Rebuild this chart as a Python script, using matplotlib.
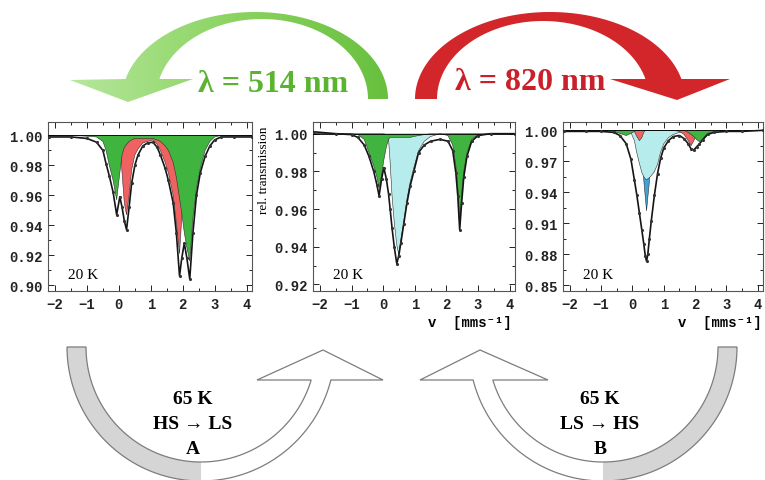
import numpy as np
import matplotlib
matplotlib.use("Agg")
import matplotlib.pyplot as plt
from matplotlib.patches import Polygon
from matplotlib.colors import LinearSegmentedColormap
from matplotlib.ticker import MultipleLocator, FixedLocator, AutoMinorLocator, FormatStrFormatter

plt.rcParams['font.family'] = ['Liberation Mono', 'DejaVu Sans Mono']
plt.rcParams['font.weight'] = 'bold'
SERIF = ['Liberation Serif', 'DejaVu Serif']

# ---- spectrum after 514 nm (velocity in mm/s, relative transmission) ----
v1 = [-2.2, -1.5, -1.0, -0.7, -0.5, -0.4, -0.3, -0.18, -0.07, 0.03,
      0.1, 0.17, 0.24, 0.32, 0.4, 0.5, 0.6, 0.75, 0.9, 1.07,
      1.2, 1.3, 1.45, 1.55, 1.7, 1.8, 1.9, 1.97, 2.05, 2.13,
      2.22, 2.32, 2.43, 2.55, 2.7, 2.85, 3.0, 3.2, 3.6, 4.17]
data1 = [0.999, 0.999, 0.998, 0.9955, 0.99, 0.981, 0.973, 0.962, 0.947, 0.959,
         0.952, 0.943, 0.937, 0.952, 0.968, 0.98, 0.987, 0.993, 0.995, 0.9955,
         0.992, 0.987, 0.978, 0.97, 0.955, 0.935, 0.906, 0.918, 0.928, 0.918,
         0.904, 0.935, 0.96, 0.975, 0.986, 0.993, 0.997, 0.999, 0.999, 0.999]
red1 = [1.0, 1.0, 1.0, 1.0, 1.0, 1.0, 1.0, 1.0, 1.0, 0.997,
        0.975, 0.955, 0.947, 0.96, 0.977, 0.987, 0.991, 0.995, 0.996, 0.997,
        0.994, 0.99, 0.982, 0.975, 0.96, 0.942, 0.921, 0.945, 0.97, 0.985,
        0.99, 0.995, 0.998, 1.0, 1.0, 1.0, 1.0, 1.0, 1.0, 1.0]
green1 = [1.0, 1.0, 0.9995, 0.999, 0.996, 0.99, 0.98, 0.97, 0.957, 0.975,
          0.987, 0.992, 0.994, 0.996, 0.997, 0.998, 0.998, 0.998, 0.998, 0.998,
          0.997, 0.996, 0.993, 0.99, 0.982, 0.972, 0.958, 0.948, 0.935, 0.925,
          0.916, 0.945, 0.965, 0.978, 0.99, 0.996, 0.999, 1.0, 1.0, 1.0]
yticks1 = [0.90, 0.92, 0.94, 0.96, 0.98, 1.00]

# ---- spectrum in the middle ----
v2 = [-2.2, -1.5, -1.0, -0.8, -0.6, -0.45, -0.3, -0.2, -0.13, -0.05,
      0.02, 0.1, 0.17, 0.22, 0.28, 0.35, 0.43, 0.49, 0.56, 0.65,
      0.75, 0.85, 0.97, 1.12, 1.3, 1.5, 1.8, 2.05, 2.2, 2.3,
      2.36, 2.42, 2.48, 2.55, 2.65, 2.8, 3.0, 3.4, 4.17]
data2 = [1.001, 1.0, 0.9995, 0.998, 0.994, 0.988, 0.98, 0.973, 0.967, 0.976,
         0.982, 0.976, 0.968, 0.96, 0.95, 0.94, 0.931, 0.935, 0.942, 0.952,
         0.963, 0.972, 0.98, 0.99, 0.994, 0.996, 0.997, 0.996, 0.991, 0.979,
         0.967, 0.949, 0.963, 0.977, 0.988, 0.996, 0.999, 1.0, 1.0]
cyan2 = [1.0, 1.0, 1.0, 1.0, 1.0, 1.0, 1.0, 1.0, 1.0, 1.0,
         1.0, 0.9995, 0.997, 0.985, 0.967, 0.953, 0.941, 0.936, 0.944, 0.953,
         0.965, 0.974, 0.982, 0.991, 0.996, 0.9985, 1.0, 1.0, 1.0, 1.0,
         1.0, 1.0, 1.0, 1.0, 1.0, 1.0, 1.0, 1.0, 1.0]
green2 = [1.0, 1.0, 1.0, 0.9995, 0.997, 0.99, 0.983, 0.977, 0.971, 0.978,
          0.986, 0.993, 0.997, 0.998, 0.998, 0.998, 0.998, 0.998, 0.998, 0.998,
          0.998, 0.998, 0.9985, 0.999, 0.9995, 1.0, 1.0, 0.999, 0.994, 0.983,
          0.972, 0.950, 0.968, 0.98, 0.99, 0.997, 0.9995, 1.0, 1.0]
yticks2 = [0.92, 0.94, 0.96, 0.98, 1.00]

# ---- spectrum after 820 nm ----
v3 = [-2.2, -1.5, -1.0, -0.6, -0.4, -0.2, -0.05, 0.06, 0.14, 0.22,
      0.3, 0.36, 0.41, 0.45, 0.49, 0.54, 0.6, 0.7, 0.8, 0.9,
      1.0, 1.15, 1.3, 1.5, 1.65, 1.78, 1.87, 1.96, 2.05, 2.14,
      2.25, 2.4, 2.6, 3.0, 3.5, 4.17]
data3 = [0.999, 0.999, 0.999, 0.998, 0.995, 0.987, 0.972, 0.952, 0.937, 0.92,
         0.903, 0.89, 0.878, 0.873, 0.88, 0.895, 0.912, 0.937, 0.958, 0.973,
         0.983, 0.99, 0.994, 0.995, 0.992, 0.987, 0.982, 0.981, 0.984, 0.987,
         0.991, 0.996, 0.998, 0.999, 0.999, 1.0]
blue3 = [1.0, 1.0, 1.0, 1.0, 1.0, 1.0, 1.0, 1.0, 1.0, 1.0,
         0.99, 0.952, 0.935, 0.922, 0.935, 0.95, 0.99, 1.0, 1.0, 1.0,
         1.0, 1.0, 1.0, 1.0, 1.0, 1.0, 1.0, 1.0, 1.0, 1.0,
         1.0, 1.0, 1.0, 1.0, 1.0, 1.0]
cyan3 = [1.0, 1.0, 1.0, 1.0, 1.0, 1.0, 0.998, 0.99, 0.978, 0.968,
         0.959, 0.955, 0.953, 0.952, 0.953, 0.954, 0.956, 0.96, 0.967, 0.979,
         0.987, 0.993, 0.996, 0.998, 0.999, 1.0, 1.0, 1.0, 1.0, 1.0,
         1.0, 1.0, 1.0, 1.0, 1.0, 1.0]
red3 = [1.0, 1.0, 1.0, 1.0, 1.0, 1.0, 1.0, 0.999, 0.994, 0.99,
        0.993, 0.998, 1.0, 1.0, 1.0, 1.0, 1.0, 1.0, 1.0, 1.0,
        1.0, 1.0, 1.0, 0.999, 0.996, 0.99, 0.985, 0.99, 0.996, 0.999,
        1.0, 1.0, 1.0, 1.0, 1.0, 1.0]
green3 = [1.0, 1.0, 1.0, 0.999, 0.997, 0.995, 0.997, 0.999, 1.0, 1.0,
          1.0, 1.0, 1.0, 1.0, 1.0, 1.0, 1.0, 1.0, 1.0, 1.0,
          1.0, 1.0, 1.0, 1.0, 1.0, 0.998, 0.996, 0.994, 0.991, 0.989,
          0.992, 0.997, 0.999, 1.0, 1.0, 1.0]
yticks3 = [0.85, 0.88, 0.91, 0.94, 0.97, 1.00]

GREEN = '#3fb43f'
RED = '#f06262'
CYAN = '#b6ecec'
BLUE = '#3fa3d6'

W, H = 765, 481
fig = plt.figure(figsize=(W / 100, H / 100), dpi=100)

# overlay in pixel coordinates for the arrows and captions
ax0 = fig.add_axes([0, 0, 1, 1])
ax0.axis('off')


def ell(cx, cy, rx, ry, t):
    return np.column_stack([cx + rx * np.cos(t), cy - ry * np.sin(t)])


# green arc (514 nm), tail on the right, head bottom-left
t_out = np.linspace(0, np.pi - 0.232, 80)
t_in = np.linspace(np.pi - 0.253, 0, 80)
g_pts = np.vstack([ell(255, 100, 133, 87, t_out),
                   [[70, 81], [128, 103], [193, 80]],
                   ell(262, 100, 106, 80, t_in)])
g_patch = Polygon(g_pts, closed=True, facecolor='none', edgecolor='none')
ax0.add_patch(g_patch)
gcmap = LinearSegmentedColormap.from_list('g', ['#b8e8a0', '#8dd463', '#66bf3c'])
im = ax0.imshow(np.linspace(0, 1, 256).reshape(1, -1), extent=(60, 395, 110, 5),
                cmap=gcmap, aspect='auto', zorder=1)
im.set_clip_path(g_patch)

# red arc (820 nm), tail on the left, head bottom-right
t_out = np.linspace(np.pi, 0.232, 80)
t_in = np.linspace(0.259, np.pi, 80)
r_pts = np.vstack([ell(550, 100, 135, 87, t_out),
                   [[730, 80], [677, 101], [610, 80]],
                   ell(543, 100, 106, 78, t_in)])
ax0.add_patch(Polygon(r_pts, closed=True, facecolor='#d2262b', edgecolor='none'))
ax0.set_xlim(0, W)
ax0.set_ylim(H, 0)

ax0.text(273, 85, 'λ = 514 nm', color='#5ab42f', fontsize=23, fontweight='bold',
         family=SERIF, ha='center', va='center', zorder=5)
ax0.text(530, 83, 'λ = 820 nm', color='#c9202a', fontsize=23, fontweight='bold',
         family=SERIF, ha='center', va='center', zorder=5)


def circ(cx, cy, r, t):
    return np.column_stack([cx + r * np.cos(t), cy + r * np.sin(t)])


def u_arrow(cx, cy, ro, ri, head, left_head):
    so = np.arcsin(33 / ro)
    si = np.arcsin(33 / ri)
    if not left_head:
        outer = circ(cx, cy, ro, np.linspace(np.pi, so, 90))
        inner = circ(cx, cy, ri, np.linspace(si, np.pi, 90))
        gray = np.vstack([circ(cx, cy, ro, np.linspace(np.pi, np.pi / 2, 50)),
                          circ(cx, cy, ri, np.linspace(np.pi / 2, np.pi, 50))])
    else:
        outer = circ(cx, cy, ro, np.linspace(0, np.pi - so, 90))
        inner = circ(cx, cy, ri, np.linspace(np.pi - si, 0, 90))
        gray = np.vstack([circ(cx, cy, ro, np.linspace(0, np.pi / 2, 50)),
                          circ(cx, cy, ri, np.linspace(np.pi / 2, 0, 50))])
    pts = np.vstack([outer, head, inner])
    ax0.add_patch(Polygon(pts, closed=True, facecolor='white', edgecolor='none', zorder=2))
    ax0.add_patch(Polygon(gray, closed=True, facecolor='#d5d5d5', edgecolor='none', zorder=3))
    ax0.add_patch(Polygon(pts, closed=True, facecolor='none', edgecolor='#7d7d7d',
                          lw=0.9, zorder=4))


u_arrow(201, 348, 134, 115, [[383, 381], [323, 351], [257, 381]], False)
u_arrow(603, 348, 134, 115, [[420, 381], [480, 351], [548, 381]], True)

for x0, lines in [(193, ['65 K', 'HS → LS', 'A']), (600, ['65 K', 'LS → HS', 'B'])]:
    for i, s in enumerate(lines):
        ax0.text(x0, 400 + 25 * i, s, fontsize=14, fontweight='bold', family=SERIF,
                 ha='center', va='center', zorder=5)

# ---- the three spectra ----
panels = [
    ([48, 204], v1, data1, [(red1, RED), (green1, GREEN)], (0.896, 1.009), yticks1),
    ([313, 202], v2, data2, [(cyan2, CYAN), (green2, GREEN)], (0.9165, 1.0062), yticks2),
    ([563, 200], v3, data3, [(blue3, BLUE), (cyan3, CYAN), (red3, RED), (green3, GREEN)],
     (0.8442, 1.0081), yticks3),
]
top, bot = 123, 292
for (left, width), v, data, comps, ylim, yticks in panels:
    ax = fig.add_axes([left / W, 1 - bot / H, width / W, (bot - top) / H])
    for k, (vals, col) in enumerate(comps):
        ax.fill_between(v, vals, 1.0, facecolor=col, edgecolor='none', zorder=1 + k)
        ax.plot(v, vals, color='#2f2f2f', lw=0.4, zorder=1.5 + k)
    ax.axhline(1.0, color='k', lw=0.6, zorder=8)
    ax.plot(v, data, color='#151515', lw=1.2, zorder=9)
    ax.plot(v, data, ls='none', marker='.', ms=2.5, color='#333333', zorder=9)
    ax.set_xlim(-2.22, 4.17)
    ax.set_ylim(*ylim)
    ax.xaxis.set_major_locator(MultipleLocator(1))
    ax.xaxis.set_minor_locator(MultipleLocator(0.5))
    ax.yaxis.set_major_locator(FixedLocator(yticks))
    ax.yaxis.set_minor_locator(AutoMinorLocator(2))
    ax.yaxis.set_major_formatter(FormatStrFormatter('%.2f'))
    ax.tick_params(which='both', direction='in', top=True, right=True,
                   labelsize=10, width=0.7, colors='#222222')
    ax.tick_params(which='major', length=4, pad=4)
    ax.tick_params(which='minor', length=2)
    for sp in ax.spines.values():
        sp.set_linewidth(0.8)
        sp.set_color('#555555')
    ax.text(0.1, 0.1, '20 K', transform=ax.transAxes, fontsize=11, fontweight='normal',
            family=SERIF, ha='left', va='center', zorder=10)

fig.text(264 / W, 1 - 170 / H, 'rel. transmission', rotation=90, fontsize=9.5,
         fontweight='normal', family=SERIF, ha='center', va='center')
fig.text(512 / W, 1 - 323 / H, 'v  [mms⁻¹]', fontsize=10, ha='right', va='center')
fig.text(762 / W, 1 - 323 / H, 'v  [mms⁻¹]', fontsize=10, ha='right', va='center')

fig.savefig('out.png', dpi=100)
